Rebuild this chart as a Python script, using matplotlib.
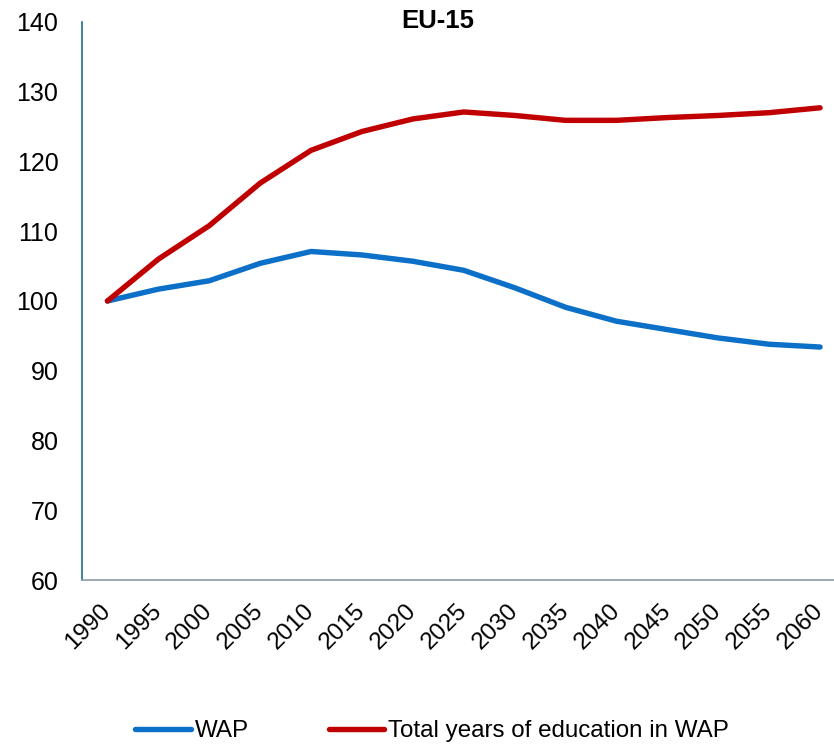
import numpy as np
import matplotlib.pyplot as plt

plt.rcParams['font.family'] = ['Liberation Sans', 'DejaVu Sans']

years = ['1990', '1995', '2000', '2005', '2010', '2015', '2020', '2025',
         '2030', '2035', '2040', '2045', '2050', '2055', '2060']
wap = [100.0, 101.7, 102.9, 105.4, 107.1, 106.6, 105.7, 104.4,
       101.9, 99.1, 97.1, 95.9, 94.7, 93.8, 93.4]
edu = [100.0, 106.0, 110.8, 116.9, 121.6, 124.3, 126.1, 127.1,
       126.6, 125.9, 125.9, 126.3, 126.6, 127.0, 127.7]

W, H = 834, 744
fig = plt.figure(figsize=(W / 100, H / 100), dpi=100)
ax = fig.add_axes([82 / W, (H - 580) / H, (845.5 - 82) / W, (580 - 22) / H])

x = np.arange(len(years))
ax.plot(x, wap, color='#0C6FC8', lw=3.9, solid_capstyle='round', label='WAP')
ax.plot(x, edu, color='#C00000', lw=3.9, solid_capstyle='round',
        label='Total years of education in WAP')

ax.set_xlim(-0.5, len(years) - 0.5)
ax.set_ylim(60, 140)
ax.set_yticks(range(60, 141, 10))
ax.set_xticks(x)
ax.set_xticklabels(years, rotation=45, fontsize=17.5, ha='right', va='center',
                   rotation_mode='anchor')
ax.tick_params(axis='y', labelsize=18, length=0, pad=17)
ax.tick_params(axis='x', length=0, pad=20)

for s in ['top', 'right']:
    ax.spines[s].set_visible(False)
ax.spines['left'].set_color('#1F6E8C')
ax.spines['left'].set_linewidth(1.2)
ax.spines['bottom'].set_color('#8C9BA5')
ax.spines['bottom'].set_linewidth(1.2)

fig.text(438 / W, 1 - 21 / H, 'EU-15', ha='center', va='center',
         fontsize=18.5, fontweight='bold')

fig.legend(loc='center', bbox_to_anchor=(432 / W, 1 - 731 / H), ncol=2,
           frameon=False, fontsize=17.4, handlelength=2.3, handletextpad=0.17,
           columnspacing=3.3)

fig.savefig('out.png', dpi=100)
